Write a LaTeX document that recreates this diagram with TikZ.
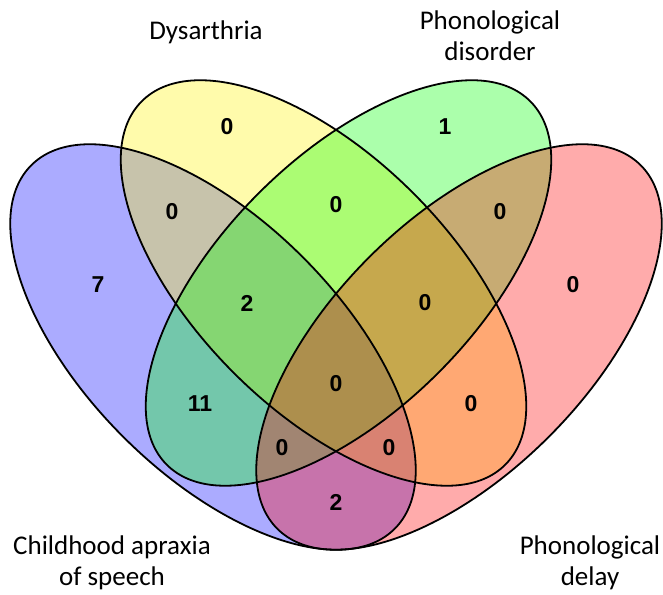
\documentclass[tikz,border=0pt]{standalone}
\usepackage{fontspec}
\setmainfont{Carlito}
\newfontfamily\numfont{Liberation Sans}

\begin{document}
\begin{tikzpicture}[x=1pt,y=1pt,
    setfill/.style={fill opacity=0.33},
    setline/.style={draw=black,line width=1.8pt},
    count/.style={font=\numfont\bfseries\fontsize{23}{27}\selectfont},
    setlabel/.style={align=center,font=\fontsize{27}{31}\selectfont}]
  \useasboundingbox (0,0) rectangle (663,594);
  % centres of the four sets
  \coordinate (cas) at (213,247);
  \coordinate (dys) at (323.5,311);
  \coordinate (pdis) at (348.5,311);
  \coordinate (pdel) at (459,247);
  % fills first, outlines on top
  \fill[setfill,blue,rotate around={-45:(cas)}] (cas) ellipse [x radius=257,y radius=127];
  \fill[setfill,yellow,rotate around={-45:(dys)}] (dys) ellipse [x radius=257,y radius=127];
  \fill[setfill,green,rotate around={45:(pdis)}] (pdis) ellipse [x radius=257,y radius=127];
  \fill[setfill,red,rotate around={45:(pdel)}] (pdel) ellipse [x radius=257,y radius=127];
  \draw[setline,rotate around={-45:(cas)}] (cas) ellipse [x radius=257,y radius=127];
  \draw[setline,rotate around={-45:(dys)}] (dys) ellipse [x radius=257,y radius=127];
  \draw[setline,rotate around={45:(pdis)}] (pdis) ellipse [x radius=257,y radius=127];
  \draw[setline,rotate around={45:(pdel)}] (pdel) ellipse [x radius=257,y radius=127];
  % set names
  \node[setlabel] (ldys) at (206,562) {Dysarthria};
  \node[setlabel] (lpdis) at (490,558) {Phonological\\disorder};
  \node[setlabel] (lcas) at (112,31) {Childhood apraxia\\of speech};
  \node[setlabel] (lpdel) at (590,31) {Phonological\\delay};
  % counts
  \node[count] (nY) at (227,467) {0};
  \node[count] (nG) at (445,467) {1};
  \node[count] (nBY) at (172,382) {0};
  \node[count] (nYG) at (336,389) {0};
  \node[count] (nGR) at (500,382) {0};
  \node[count] (nB) at (98,309) {7};
  \node[count] (nR) at (573,309) {0};
  \node[count] (nBYG) at (247,291) {2};
  \node[count] (nYGR) at (425,291) {0};
  \node[count] (nBYGR) at (336,210) {0};
  \node[count] (nBG) at (200,190) {11};
  \node[count] (nYR) at (471,190) {0};
  \node[count] (nBGR) at (282,146) {0};
  \node[count] (nBYR) at (389,146) {0};
  \node[count] (nBR) at (336,92) {2};
\end{tikzpicture}
\end{document}
